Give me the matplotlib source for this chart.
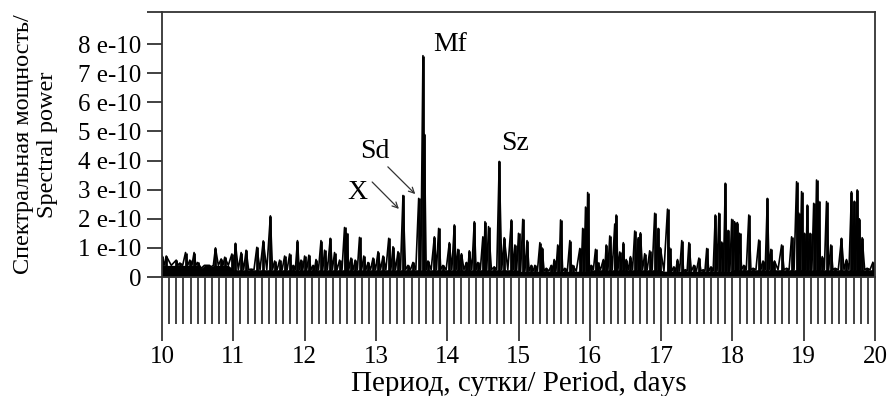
import numpy as np
import matplotlib
matplotlib.use("Agg")
import matplotlib.pyplot as plt
from matplotlib.ticker import MultipleLocator

# spectral peaks: period (days) and power (units of 1e-10)
period = [10.00, 10.06, 10.20, 10.25, 10.33, 10.39, 10.45, 10.50, 10.55, 10.64,
          10.69, 10.75, 10.83, 10.88, 10.98, 11.03, 11.11, 11.18, 11.25, 11.33,
          11.42, 11.52, 11.58, 11.65, 11.72, 11.79, 11.84, 11.90, 11.95, 12.00,
          12.06, 12.12, 12.16, 12.23, 12.28, 12.36, 12.42, 12.49, 12.56, 12.59,
          12.65, 12.71, 12.77, 12.83, 12.89, 12.96, 13.03, 13.10, 13.18, 13.24,
          13.31, 13.38, 13.45, 13.52, 13.60, 13.66, 13.68, 13.73, 13.82, 13.88,
          13.94, 14.03, 14.10, 14.15, 14.20, 14.27, 14.31, 14.38, 14.43, 14.50,
          14.53, 14.58, 14.66, 14.73, 14.80, 14.90, 14.95, 15.00, 15.06, 15.12,
          15.18, 15.23, 15.30, 15.33, 15.39, 15.46, 15.50, 15.55, 15.59, 15.65,
          15.72, 15.76, 15.86, 15.90, 15.94, 15.97, 16.02, 16.08, 16.11, 16.19,
          16.23, 16.28, 16.35, 16.37, 16.42, 16.47, 16.51, 16.57, 16.63, 16.68,
          16.71, 16.77, 16.84, 16.91, 16.96, 16.99, 17.09, 17.12, 17.18, 17.23,
          17.29, 17.34, 17.39, 17.46, 17.53, 17.59, 17.64, 17.70, 17.76, 17.81,
          17.85, 17.90, 17.94, 17.99, 18.03, 18.07, 18.10, 18.16, 18.23, 18.29,
          18.37, 18.43, 18.49, 18.54, 18.59, 18.69, 18.76, 18.83, 18.90, 18.93,
          18.97, 19.01, 19.05, 19.09, 19.14, 19.18, 19.21, 19.26, 19.32, 19.38,
          19.44, 19.53, 19.60, 19.67, 19.71, 19.75, 19.78, 19.82, 19.89, 19.97]
power = [0.72, 0.72, 0.58, 0.48, 0.84, 0.58, 0.84, 0.50, 0.30, 0.40,
         0.35, 1.00, 0.62, 0.68, 0.79, 1.16, 0.84, 0.92, 0.27, 1.02,
         1.24, 2.10, 0.55, 0.58, 0.72, 0.79, 0.40, 1.25, 0.58, 0.72,
         0.75, 0.40, 0.60, 1.25, 0.92, 1.33, 0.84, 0.58, 1.70, 1.50,
         0.65, 0.58, 1.36, 0.72, 0.50, 0.65, 0.87, 0.72, 1.33, 1.04,
         0.87, 2.80, 0.40, 0.50, 2.70, 7.60, 4.90, 0.55, 1.38, 1.67,
         0.40, 1.18, 1.79, 0.95, 0.80, 0.50, 0.90, 1.90, 0.50, 1.38,
         1.90, 1.73, 0.35, 3.97, 1.35, 1.96, 1.10, 1.50, 1.98, 1.25,
         0.40, 0.40, 1.18, 1.00, 0.30, 0.40, 0.60, 1.10, 1.96, 0.30,
         1.25, 0.40, 0.98, 1.67, 2.40, 2.90, 0.40, 0.95, 0.50, 0.60,
         1.10, 1.41, 1.82, 2.13, 0.86, 1.18, 0.60, 0.70, 1.58, 1.35,
         1.52, 0.80, 0.90, 2.19, 1.67, 1.00, 2.33, 1.00, 0.35, 0.60,
         1.25, 0.25, 1.18, 0.40, 0.65, 0.25, 0.98, 0.35, 2.13, 2.19,
         1.20, 3.22, 1.60, 1.98, 1.90, 1.87, 1.50, 0.40, 2.13, 0.30,
         1.27, 0.55, 2.70, 0.95, 0.55, 1.10, 0.30, 1.38, 3.27, 2.20,
         2.93, 1.50, 2.47, 1.50, 2.53, 3.33, 2.60, 0.70, 2.59, 1.10,
         0.30, 1.33, 0.60, 2.93, 2.60, 2.99, 2.00, 1.35, 0.30, 0.50]
# low background level between peaks, one value per day 10..19
valley_by_day = [0.40, 0.25, 0.25, 0.25, 0.25, 0.20, 0.25, 0.20, 0.25, 0.25]

yticks = [0, 1, 2, 3, 4, 5, 6, 7, 8]
ytick_labels = ['0', '1 e-10', '2 e-10', '3 e-10', '4 e-10', '5 e-10', '6 e-10', '7 e-10', '8 e-10']
scale = 1e-10

plt.rcParams['font.family'] = ['Liberation Serif', 'DejaVu Serif']

p = np.array(period)
h = np.array(power) * scale
mids = (p[:-1] + p[1:]) / 2
v = np.array([valley_by_day[int(m) - 10] for m in mids]) * scale
xs = np.empty(len(p) + len(mids))
ys = np.empty_like(xs)
xs[0::2], ys[0::2] = p, h
xs[1::2], ys[1::2] = mids, v

fig = plt.figure(figsize=(8.91, 3.96), dpi=100)
ax = fig.add_axes([162/891, 119/396, 713/891, 265/396])
ax.fill_between(xs, 0, np.minimum(ys, np.interp(xs, mids, v)), color='black', lw=0)
ax.plot(xs, ys, color='black', lw=1.2)
ax.vlines(p, 0, h, color='black', lw=2.0)

ytop = 9.1e-10
ax.set_xlim(10, 20)
ax.set_ylim(0, ytop)
ax.set_yticks([t * scale for t in yticks] + [ytop])
ax.set_yticklabels(ytick_labels + [''], fontsize=18)
ax.xaxis.set_major_locator(MultipleLocator(1))
ax.xaxis.set_minor_locator(MultipleLocator(0.1))
ax.tick_params(axis='x', which='major', direction='out', length=46, width=1.3,
               color='#333333', labelsize=18, pad=4)
ax.tick_params(axis='x', which='minor', direction='out', length=34, width=1.3, color='#333333')
ax.tick_params(axis='y', direction='out', length=11, width=1.3, color='#333333', pad=4)
for s in ax.spines.values():
    s.set_color('#333333')
    s.set_linewidth(1.3)

ax.set_xlabel('Период, сутки/ Period, days', fontsize=21, labelpad=2)
ax.set_ylabel('Спектральная мощность/\nSpectral power', fontsize=17.5, labelpad=14)

ax.text(14.04, 7.97e-10, 'Mf', fontsize=20, ha='center', va='center')
ax.text(14.95, 4.6e-10, 'Sz', fontsize=20, ha='center', va='center')
ax.text(12.98, 4.3e-10, 'Sd', fontsize=20, ha='center', va='center')
ax.text(12.74, 2.89e-10, 'X', fontsize=20, ha='center', va='center')
arrow = dict(arrowstyle='->', color='#333333', lw=0.9)
ax.annotate('', xy=(13.35, 2.27e-10), xytext=(12.92, 3.33e-10), arrowprops=arrow)
ax.annotate('', xy=(13.58, 2.78e-10), xytext=(13.14, 3.85e-10), arrowprops=arrow)

fig.savefig('out.png', dpi=100)
